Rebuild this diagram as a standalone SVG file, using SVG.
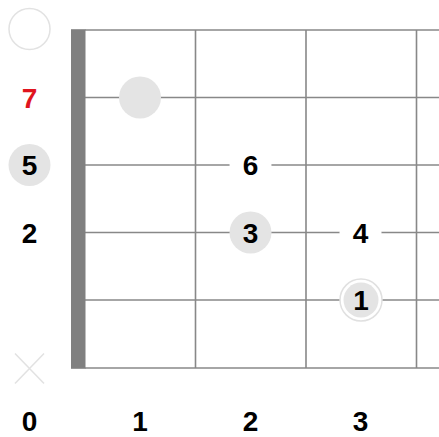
<svg xmlns="http://www.w3.org/2000/svg" width="439" height="437" viewBox="0 0 439 437">
<style>
.grid{stroke:#888;stroke-width:1.6;fill:none}
.lbl{font-family:"Liberation Sans",Arial,sans-serif;font-weight:bold;font-size:28px;text-anchor:middle;fill:#000}
.red{fill:#e0141e}
.dot{fill:#e4e4e4}
.bg{fill:#fff}
.ring{fill:#fff;stroke:#e0e0e0;stroke-width:1.5}
</style>
<rect width="439" height="437" fill="#fff"/>
<g id="connectors">
<g class="grid">
<line x1="85" y1="30" x2="439" y2="30"/>
<line x1="85" y1="97.5" x2="439" y2="97.5"/>
<line x1="85" y1="165" x2="439" y2="165"/>
<line x1="85" y1="232.5" x2="439" y2="232.5"/>
<line x1="85" y1="300" x2="439" y2="300"/>
<line x1="85" y1="368" x2="439" y2="368"/>
<line x1="195.5" y1="30" x2="195.5" y2="368"/>
<line x1="306" y1="30" x2="306" y2="368"/>
<line x1="416.5" y1="30" x2="416.5" y2="368"/>
</g>
<rect id="nut" x="71" y="29.2" width="14.5" height="339.6" fill="#808080"/>
</g>
<g id="open-top"><circle cx="29.5" cy="29" r="20.5" fill="#fff" stroke="#e2e2e2" stroke-width="1.5"/></g>
<g id="label-7"><text class="lbl red" x="29.5" y="107.5">7</text></g>
<g id="label-5"><circle class="dot" cx="29.5" cy="165" r="21"/><text class="lbl" x="29.5" y="175">5</text></g>
<g id="label-2"><text class="lbl" x="29.5" y="242.5">2</text></g>
<g id="mute"><path d="M15 353.5 L44 383.5 M44 353.5 L15 383.5" stroke="#e2e2e2" stroke-width="1.5" fill="none"/></g>
<g id="dot-1"><circle class="dot" cx="140" cy="97.5" r="21"/></g>
<g id="note-6"><circle class="bg" cx="250.5" cy="165" r="21"/><text class="lbl" x="250.5" y="175">6</text></g>
<g id="note-3"><circle class="dot" cx="250.5" cy="232.5" r="21"/><text class="lbl" x="250.5" y="242.5">3</text></g>
<g id="note-4"><circle class="bg" cx="360.5" cy="232.5" r="21"/><text class="lbl" x="360.5" y="242.5">4</text></g>
<g id="note-1"><circle class="ring" cx="361" cy="300" r="21"/><circle class="dot" cx="361" cy="300" r="17.5"/><text class="lbl" x="361" y="310">1</text></g>
<g id="fret-labels">
<text class="lbl" x="29.5" y="431">0</text>
<text class="lbl" x="140" y="431">1</text>
<text class="lbl" x="250.5" y="431">2</text>
<text class="lbl" x="360.5" y="431">3</text>
</g>
</svg>
